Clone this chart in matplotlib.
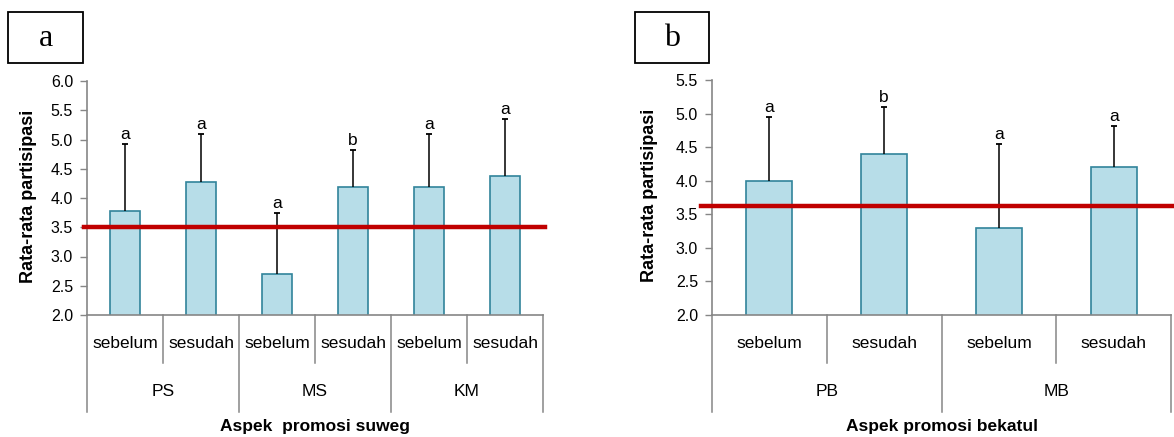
import matplotlib
matplotlib.use("Agg")
import matplotlib.pyplot as plt
from matplotlib.patches import Rectangle
from matplotlib.ticker import MultipleLocator, FormatStrFormatter
import numpy as np

plt.rcParams['font.family'] = ['Liberation Sans', 'DejaVu Sans']

# ---- data ----
a_groups = ["PS", "MS", "KM"]
a_sub = ["sebelum", "sesudah"]
a_values = [3.78, 4.28, 2.70, 4.18, 4.18, 4.38]
a_err_top = [4.92, 5.10, 3.74, 4.82, 5.10, 5.35]
a_letters = ["a", "a", "a", "b", "a", "a"]
a_ref = 3.5
a_xlabel = "Aspek  promosi suweg"

b_groups = ["PB", "MB"]
b_sub = ["sebelum", "sesudah"]
b_values = [4.00, 4.40, 3.30, 4.20]
b_err_top = [4.95, 5.10, 4.55, 4.82]
b_letters = ["a", "b", "a", "a"]
b_ref = 3.62
b_xlabel = "Aspek promosi bekatul"

ylabel = "Rata-rata partisipasi"

W, H = 1174, 437
fig = plt.figure(figsize=(W / 100, H / 100), dpi=100)

BAR_FC = "#b7dde8"
BAR_EC = "#31849b"
AX_C = "#868686"
RED = "#c00000"
FS_TICK = 11.5
FS_CAT = 12.5
FS_LET = 12.5
FS_YL = 13
FS_XL = 12.5


def px_ax(l, r, t, b):
    return [l / W, 1 - b / H, (r - l) / W, (b - t) / H]


def panel(rect, groups, sub, values, tops, letters, ref, ymax, xlabel,
          red_x0, red_x1, box, boxlabel, ylab_x):
    ax = fig.add_axes(px_ax(*rect))
    n = len(values)
    x = np.arange(n)
    ax.bar(x, values, width=0.4, bottom=0, color=BAR_FC, edgecolor=BAR_EC,
           linewidth=1.2, zorder=2)
    ax.vlines(x, values, tops, color="black", linewidth=1.1, zorder=3)
    ax.plot(x, tops, linestyle="none", marker="_", markersize=5,
            markeredgewidth=1.3, color="black", zorder=3)
    for xi, t, l in zip(x, tops, letters):
        ax.text(xi, t + 0.03, l, ha="center", va="bottom", fontsize=FS_LET)
    ax.set_xlim(-0.5, n - 0.5)
    ax.set_ylim(2.0, ymax)
    ax.yaxis.set_major_locator(MultipleLocator(0.5))
    ax.yaxis.set_major_formatter(FormatStrFormatter('%.1f'))
    ax.tick_params(axis='y', length=5, width=1, color=AX_C,
                   labelsize=FS_TICK, pad=5)
    ax.set_xticks([])
    for s in ["top", "right"]:
        ax.spines[s].set_visible(False)
    for s in ["left", "bottom"]:
        ax.spines[s].set_color(AX_C)
        ax.spines[s].set_linewidth(1.2)

    # red reference line (figure-pixel extent)
    l, r, t, b = rect
    yfrac = (ref - 2.0) / (ymax - 2.0)
    ypx = b - yfrac * (b - t)
    fig.add_artist(plt.Line2D([red_x0 / W, red_x1 / W],
                              [1 - ypx / H, 1 - ypx / H],
                              color=RED, linewidth=3.2, zorder=5))

    # category axis
    hpx = b - t
    trans = ax.get_xaxis_transform()
    inner = -48 / hpx
    outer = -97 / hpx
    per = len(sub)
    for i in range(n + 1):
        xb = i - 0.5
        y1 = outer if i % per == 0 else inner
        ax.plot([xb, xb], [0, y1], color=AX_C, linewidth=1.1,
                transform=trans, clip_on=False)
    for i in range(n):
        ax.text(i, -28 / hpx, sub[i % per], ha="center", va="center",
                fontsize=FS_CAT, transform=trans)
    for gi, g in enumerate(groups):
        ax.text(gi * per + (per - 1) / 2, -77 / hpx, g, ha="center",
                va="center", fontsize=FS_CAT, transform=trans)
    ax.text((n - 1) / 2, -112 / hpx, xlabel, ha="center", va="center",
            fontsize=FS_XL, fontweight="bold", transform=trans)

    # y label
    fig.text(ylab_x / W, 1 - ((t + b) / 2 - 2) / H, ylabel, rotation=90,
             ha="center", va="center", fontsize=FS_YL, fontweight="bold")

    # box label
    bx0, bx1, by0, by1 = box
    fig.add_artist(Rectangle((bx0 / W, 1 - by1 / H), (bx1 - bx0) / W,
                             (by1 - by0) / H, fill=False, edgecolor="black",
                             linewidth=1.3, transform=fig.transFigure))
    fig.text((bx0 + bx1) / 2 / W, 1 - ((by0 + by1) / 2 + 1) / H, boxlabel,
             ha="center", va="center", fontsize=23,
             family=["Liberation Serif", "DejaVu Serif"])
    return ax


panel((87, 543, 81, 315), a_groups, a_sub, a_values, a_err_top, a_letters,
      a_ref, 6.0, a_xlabel, 84, 545, (8, 83, 12, 63), "a", 29)
panel((712, 1171, 80, 315), b_groups, b_sub, b_values, b_err_top, b_letters,
      b_ref, 5.5, b_xlabel, 701, 1174, (635, 709, 12, 63), "b", 649)

fig.savefig("out.png", dpi=100)
